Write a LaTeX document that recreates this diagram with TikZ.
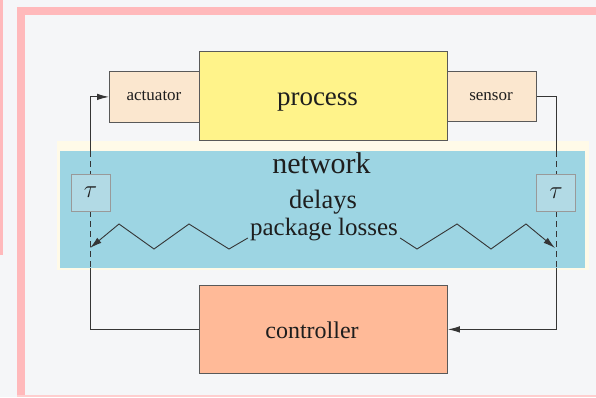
\documentclass[tikz,border=0pt]{standalone}
\usepackage{fontspec}
\setmainfont{Liberation Serif}
\usetikzlibrary{arrows.meta,calc}

\definecolor{bgcol}{HTML}{F5F6F8}
\definecolor{framepink}{HTML}{FFB9BB}
\definecolor{procyellow}{HTML}{FFF38A}
\definecolor{devpeach}{HTML}{FBE7CF}
\definecolor{netblue}{HTML}{9DD5E3}
\definecolor{taublue}{HTML}{B2DAE5}
\definecolor{ctrlsalmon}{HTML}{FFBA98}
\definecolor{creamstrip}{HTML}{FFFAE8}
\definecolor{ink}{HTML}{1E1E1E}

\begin{document}
\begin{tikzpicture}[x=1pt,y=-1pt,
  box/.style={draw=black!65, line width=0.8pt, inner sep=0pt, anchor=north west},
  taubox/.style={draw=black!40, line width=0.7pt, fill=taublue, inner sep=0pt,
                 minimum width=39pt, minimum height=37pt, text=ink},
  wire/.style={draw=ink!90, line width=1pt},
  tipped/.style={-{Latex[length=12pt,width=6.5pt]}},
  dashwire/.style={draw=ink!90, line width=1pt, dash pattern=on 6pt off 4pt},
  lbl/.style={anchor=base, text=ink, inner sep=0pt}]

\useasboundingbox (0,0) rectangle (596,397);

% page background and frame
\fill[bgcol] (0,0) rectangle (596,397);
\fill[framepink] (0,0) rectangle (3,255);
\fill[framepink] (17,7) rectangle (596,15);
\fill[framepink] (17,7) rectangle (25,397);
\fill[framepink!70] (17,395) rectangle (596,397);

% pale strip behind the network band
\fill[creamstrip] (57,141) rectangle (589,270);

% plant blocks
\node[box, fill=devpeach, minimum width=90pt, minimum height=51pt] (act) at (109,71) {};
\node[box, fill=devpeach, minimum width=89pt, minimum height=50pt] (sens) at (447,71) {};
\node[box, fill=procyellow, minimum width=248pt, minimum height=89pt] (proc) at (199,51) {};
\node[box, fill=ctrlsalmon, minimum width=248pt, minimum height=88pt] (ctrl) at (199,285) {};

% columns of the feedback loop
\coordinate (lcol) at (90,0);
\coordinate (rcol) at (556,0);

% feedback loop
\draw[wire, tipped] (ctrl.west) -- (ctrl.west -| lcol) -- (act.west -| lcol) -- (act.west);
\draw[wire, tipped] (sens.east) -- (sens.east -| rcol) -- (ctrl.east -| rcol) -- (ctrl.east);

% network band over the loop
\node[fill=netblue, inner sep=0pt, anchor=north west, minimum width=525pt, minimum height=117pt] (band) at (60,151) {};
\draw[dashwire] (lcol |- band.north) -- (lcol |- band.south);
\draw[dashwire] (rcol |- band.north) -- (rcol |- band.south);

% delay blocks
\node[taubox, font=\fontsize{26}{28}\selectfont] (tauL) at (90.5,192.5) {$\tau$};
\node[taubox, font=\fontsize{26}{28}\selectfont] (tauR) at (556,193) {$\tau$};

% labels
\node[lbl, font=\fontsize{17}{20}\selectfont] (actlbl) at (154,100.5) {actuator};
\node[lbl, font=\fontsize{17}{20}\selectfont] (senslbl) at (491,100) {sensor};
\node[lbl, font=\fontsize{27}{30}\selectfont] (proclbl) at (317.5,105) {process};
\node[lbl, font=\fontsize{30}{32}\selectfont] (netlbl) at (321.5,173) {network};
\node[lbl, font=\fontsize{26.5}{29}\selectfont] (dellbl) at (323,208) {delays};
\node[lbl, font=\fontsize{25}{28}\selectfont] (loss) at (324,235) {package losses};
\node[lbl, font=\fontsize{24}{27}\selectfont] (ctrllbl) at (312,338) {controller};

% packet-loss links hitting the loop
\coordinate (lhit) at (90,248);
\coordinate (rhit) at (555,248);
\draw[wire, tipped, line width=0.9pt] ($(loss.base west)+(-2,3)$) -- (229,249) -- (189,224)
  -- (154,249) -- (119,224) -- (lhit);
\draw[wire, tipped, line width=0.9pt] ($(loss.base east)+(2,3)$) -- (417,249) -- (457,224)
  -- (491,249) -- (526,224) -- (rhit);
\end{tikzpicture}
\end{document}
